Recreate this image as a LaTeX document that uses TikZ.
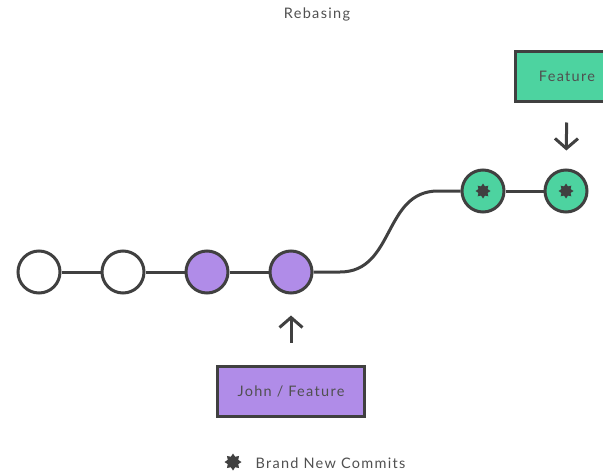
\documentclass[tikz,border=0pt]{standalone}
\usepackage{fontspec}
\setmainfont{Lato}
\usetikzlibrary{arrows.meta,shapes.geometric}
\definecolor{ink}{HTML}{404040}
\definecolor{txt}{HTML}{505050}
\definecolor{grn}{HTML}{4DD3A0}
\definecolor{prp}{HTML}{B08CE8}
\tikzset{
  commit/.style={circle,draw=ink,line width=3pt,minimum size=42pt,inner sep=0pt},
  oldc/.style={commit,fill=white},
  purc/.style={commit,fill=prp},
  grnc/.style={commit,fill=grn},
  label box/.style={draw=ink,line width=3pt,minimum height=50pt,inner sep=0pt,font=\fontsize{14.5pt}{17pt}\selectfont\addfontfeature{LetterSpace=9},text=txt},
  link/.style={draw=ink,line width=3pt},
  pointer/.style={draw=ink,line width=3pt,-{Straight Barb[length=10pt,width=23pt]}},
  newmark/.style={star,star points=8,star point ratio=1.5,fill=ink,inner sep=0pt,minimum size=15pt},
  caption/.style={font=\fontsize{14.5pt}{17pt}\selectfont\addfontfeature{LetterSpace=9},text=txt}
}
\begin{document}
\begin{tikzpicture}[x=1pt,y=-1pt]
\useasboundingbox (0,0) rectangle (603,471);
\clip (0,0) rectangle (603,471);
\node[caption] (title) at (317,14) {Rebasing};
\node[oldc] (c1) at (39,272) {};
\node[oldc] (c2) at (123,272) {};
\node[purc] (c3) at (207,272) {};
\node[purc] (c4) at (291,272) {};
\node[grnc] (g1) at (483,191) {};
\node[grnc] (g2) at (566,191) {};
\node[newmark] (s1) at (g1) {};
\node[newmark] (s2) at (g2) {};
\coordinate (k1) at (340,272);
\coordinate (k2) at (438,191);
\draw[link] (c1) -- (c2);
\draw[link] (c2) -- (c3);
\draw[link] (c3) -- (c4);
\draw[link] (c4) -- (k1) .. controls (395,272) and (383,191) .. (k2) -- (g1);
\draw[link] (g1) -- (g2);
\node[label box,fill=grn,minimum width=104pt] (feat) at (567,76) {Feature};
\node[label box,fill=prp,minimum width=147pt] (john) at (291,391) {John / Feature};
\draw[pointer,shorten <=20pt,shorten >=18pt] (feat) -- (g2);
\draw[pointer,shorten <=22pt,shorten >=21pt] (john) -- (c4);
\node[newmark,minimum size=17pt] (legmark) at (233,462) {};
\node[caption,anchor=west] (legend) at (252,463) {Brand New Commits};
\end{tikzpicture}
\end{document}
